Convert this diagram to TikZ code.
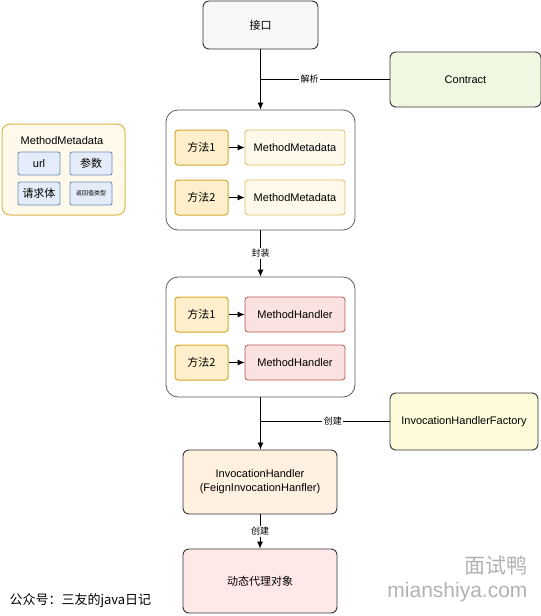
\documentclass[tikz,border=0pt]{standalone}
\usepackage{fontspec}
\setmainfont{Liberation Sans}
\newfontfamily\cjk{Noto Sans CJK SC}
\usetikzlibrary{arrows.meta, positioning}
\definecolor{dark}{HTML}{333333}
\definecolor{methodline}{HTML}{D6A829}
\definecolor{methodfill}{HTML}{FDEFCB}
\definecolor{metaline}{HTML}{DCC064}
\definecolor{metafill}{HTML}{FEF9EA}
\definecolor{handlerline}{HTML}{B85450}
\definecolor{handlerfill}{HTML}{FAE2E1}
\definecolor{blueline}{HTML}{6C8EBF}
\definecolor{bluefill}{HTML}{E3ECF8}
\definecolor{contractfill}{HTML}{F1F8E2}
\definecolor{factoryfill}{HTML}{FDFBDA}
\tikzset{
    box/.style={
        draw=dark,
        line width=0.9pt,
        rounded corners=6pt,
        inner sep=0pt,
        align=center,
        font=\fontsize{11}{14}\selectfont
    },
    groupbox/.style={
        draw=dark!80,
        line width=0.8pt,
        rounded corners=12pt,
        fill=white,
        inner sep=0pt,
        minimum width=189pt,
        minimum height=120pt
    },
    methodbox/.style={
        draw=methodline,
        line width=1pt,
        fill=methodfill,
        rounded corners=3pt,
        inner sep=0pt,
        minimum width=53pt,
        minimum height=35pt,
        font=\fontsize{11}{13}\selectfont\cjk
    },
    metabox/.style={
        draw=metaline,
        line width=0.8pt,
        fill=metafill,
        rounded corners=3pt,
        inner sep=0pt,
        minimum width=100pt,
        minimum height=35pt,
        font=\fontsize{11}{13}\selectfont
    },
    handlerbox/.style={
        metabox,
        draw=handlerline,
        fill=handlerfill
    },
    fieldbox/.style={
        draw=blueline,
        line width=0.9pt,
        fill=bluefill,
        rounded corners=2pt,
        inner sep=0pt,
        minimum width=42pt,
        minimum height=23pt,
        font=\fontsize{11}{13}\selectfont
    },
    line/.style={-{Latex[length=7pt,width=6pt]}, line width=0.8pt},
    plainline/.style={line width=0.8pt},
    edgelabel/.style={fill=white, inner sep=1.5pt, font=\fontsize{9}{11}\selectfont\cjk}
}

\begin{document}
\begin{tikzpicture}[x=1pt, y=-1pt]
\useasboundingbox (0,0) rectangle (541,616);

% top of the chain
\node[box, fill=black!3, minimum width=115pt, minimum height=48pt] (iface) at (260.5,25) {\cjk 接口};
\node[box, fill=contractfill, minimum width=151pt, minimum height=55pt] (contract) at (465.5,79.5) {Contract};

% first group: methods to metadata
\node[groupbox] (parsed) at (260.5,170) {};
\node[methodbox] (pa) at (201.5,147.5) {方法1};
\node[metabox]   (ma) at (295,147.5) {MethodMetadata};
\node[methodbox] (pb) at (201.5,197.5) {方法2};
\node[metabox]   (mb) at (295,197.5) {MethodMetadata};
\draw[line] (pa) -- (ma);
\draw[line] (pb) -- (mb);

% second group: methods to handlers
\node[groupbox] (wrapped) at (260.5,337) {};
\node[methodbox] (pc) at (201.5,314.5) {方法1};
\node[handlerbox] (ha) at (295,314.5) {MethodHandler};
\node[methodbox] (pd) at (201.5,362.5) {方法2};
\node[handlerbox] (hb) at (295,362.5) {MethodHandler};
\draw[line] (pc) -- (ha);
\draw[line] (pd) -- (hb);

% factory and proxy
\node[box, fill=factoryfill, minimum width=148pt, minimum height=57pt] (factory) at (464,421.5) {InvocationHandlerFactory};
\node[box, fill=orange!12, minimum width=154pt, minimum height=64pt] (invh) at (260,482) {InvocationHandler\\(FeignInvocationHanfler)};
\node[box, fill=red!9, minimum width=154pt, minimum height=64pt] (proxy) at (260,581) {\cjk 动态代理对象};

% connectors
\coordinate (parsepoint) at (260.5,79.5);
\coordinate (createpoint) at (260.5,421.5);
\draw[line] (iface) -- (parsed);
\draw[plainline] (contract) -- (parsepoint) node[edgelabel, pos=0.62] {解析};
\draw[line] (parsed) -- node[edgelabel] {封装} (wrapped);
\draw[line] (wrapped.south) -- (wrapped.south |- invh.north);
\draw[plainline] (factory) -- (createpoint) node[edgelabel, pos=0.44] {创建};
\draw[line] (invh) -- node[edgelabel] {创建} (proxy);

% MethodMetadata legend
\node[draw=methodline!85, line width=1pt, fill=metafill, rounded corners=8pt, minimum width=123pt, minimum height=91pt] (legend) at (63.5,169.5) {};
\node[font=\fontsize{11}{13}\selectfont] (legendtitle) at (62,141) {MethodMetadata};
\node[fieldbox] (furl)  at (39,163.5) {url};
\node[fieldbox] (fargs) at (91,163.5) {\cjk 参数};
\node[fieldbox] (fbody) at (39,193.5) {\cjk 请求体};
\node[fieldbox, font=\fontsize{6}{7}\selectfont\cjk] (fret) at (91,193.5) {返回值类型};

% footer text
\node[anchor=west, font=\fontsize{13}{15}\selectfont\cjk] (author) at (6,601) {公众号：三友的java日记};
\node[anchor=east, text=black!30, font=\fontsize{21}{23}\selectfont\cjk] (wmcn) at (531,566) {面试鸭};
\node[anchor=east, text=black!30, font=\fontsize{21}{23}\selectfont] (wmen) at (531,592) {mianshiya.com};

\end{tikzpicture}
\end{document}
